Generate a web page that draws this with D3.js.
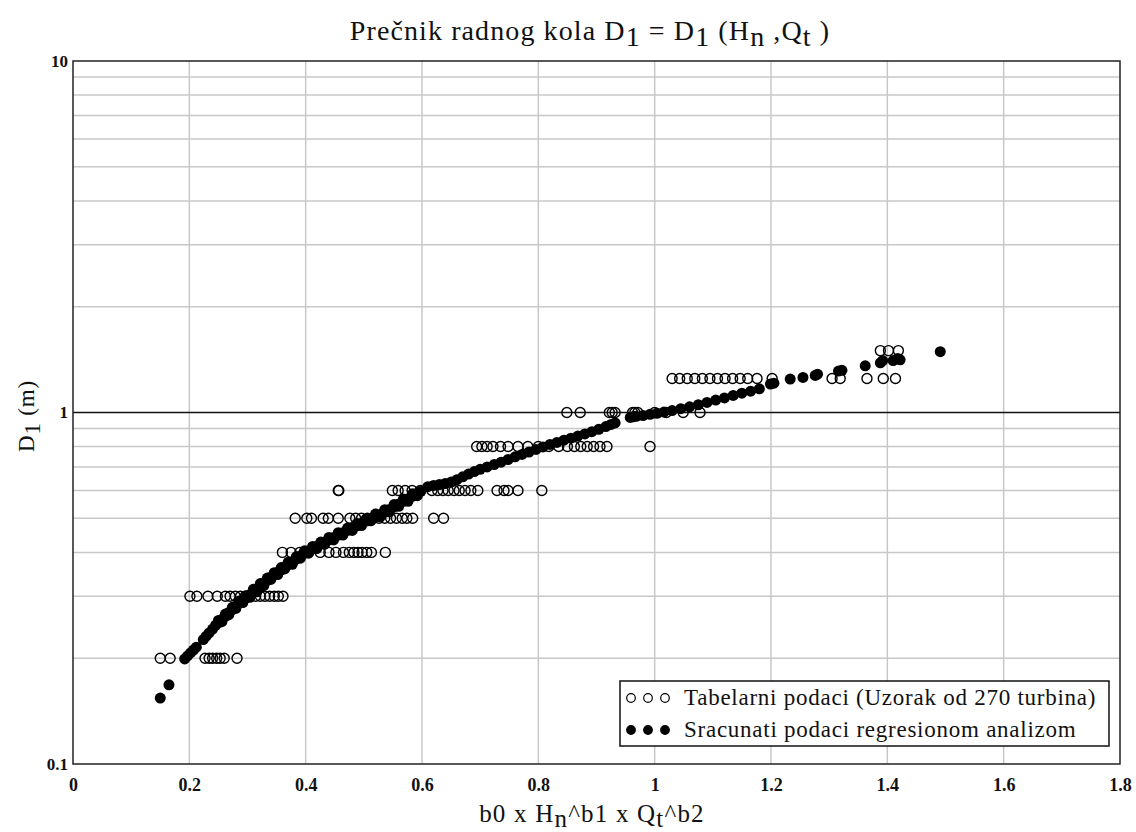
<!DOCTYPE html>
<html>
<head>
<meta charset="utf-8">
<script src="https://cdn.jsdelivr.net/npm/d3@7"></script>
<style>
  body { margin: 0; background: #fff; }
  svg { display: block; font-family: "Liberation Serif", "Times New Roman", serif; }
</style>
</head>
<body>
<div id="chart"></div>
<script>
// tabular data: D1 levels and the x values read for each level
let tabLevels = [0.2, 0.3, 0.4, 0.5, 0.6, 0.8, 1.0, 1.25, 1.5]
let tabX = [
    [0.150, 0.167, 0.227, 0.234, 0.240, 0.247, 0.253, 0.260, 0.282],
    [0.201, 0.213, 0.232, 0.248, 0.262, 0.270, 0.279, 0.288, 0.296, 0.305, 0.314, 0.322, 0.330, 0.338, 0.346, 0.353, 0.361],
    [0.360, 0.375, 0.390, 0.405, 0.425, 0.440, 0.452, 0.465, 0.475, 0.483, 0.490, 0.497, 0.505, 0.513, 0.537],
    [0.382, 0.402, 0.410, 0.430, 0.439, 0.456, 0.476, 0.486, 0.496, 0.506, 0.516, 0.526, 0.536, 0.546, 0.556, 0.566, 0.574, 0.584, 0.620, 0.637],
    [0.456, 0.457, 0.549, 0.559, 0.571, 0.583, 0.597, 0.617, 0.627, 0.636, 0.645, 0.655, 0.664, 0.674, 0.684, 0.696, 0.729, 0.741, 0.748, 0.765, 0.806],
    [0.694, 0.703, 0.712, 0.722, 0.735, 0.748, 0.765, 0.782, 0.800, 0.818, 0.835, 0.850, 0.862, 0.873, 0.884, 0.895, 0.906, 0.918, 0.992],
    [0.849, 0.872, 0.922, 0.927, 0.932, 0.962, 0.966, 0.971, 1.000, 1.020, 1.049, 1.078],
    [1.030, 1.043, 1.056, 1.069, 1.082, 1.095, 1.108, 1.121, 1.134, 1.147, 1.160, 1.176, 1.202, 1.305, 1.319, 1.365, 1.393, 1.414],
    [1.388, 1.402, 1.419]
]

// regression points (x, D1)
let calcX = [0.150, 0.165, 0.192, 0.197, 0.202, 0.207, 0.212, 0.224, 0.229, 0.234, 0.240, 0.245, 0.250, 0.256, 0.262,
    0.268, 0.274, 0.280, 0.286, 0.292, 0.298, 0.304, 0.310, 0.316, 0.322, 0.328, 0.334, 0.340, 0.346, 0.352,
    0.358, 0.364, 0.370, 0.377, 0.384, 0.391, 0.398, 0.405, 0.412, 0.419, 0.426, 0.433, 0.440, 0.448, 0.456,
    0.464, 0.472, 0.480, 0.488, 0.496, 0.504, 0.512, 0.520, 0.528, 0.536, 0.544, 0.552, 0.560, 0.568, 0.576,
    0.584, 0.592, 0.598, 0.610, 0.620, 0.630, 0.640, 0.650, 0.660, 0.670, 0.680, 0.690, 0.700, 0.712, 0.724,
    0.736, 0.748, 0.760, 0.772, 0.784, 0.796, 0.808, 0.820, 0.832, 0.844, 0.856, 0.868, 0.880, 0.892, 0.904,
    0.916, 0.925, 0.932, 0.958, 0.963, 0.968, 0.980, 0.992, 1.004, 1.016, 1.030, 1.045, 1.060, 1.075, 1.090,
    1.105, 1.120, 1.135, 1.150, 1.165, 1.180, 1.199, 1.205, 1.233, 1.255, 1.276, 1.280, 1.316, 1.322, 1.362,
    1.388, 1.392, 1.410, 1.418, 1.422, 1.491,
    0.250, 0.262, 0.274, 0.286, 0.298, 0.310, 0.322, 0.334, 0.346, 0.358, 0.370, 0.384, 0.398, 0.412, 0.426,
    0.440, 0.456, 0.472, 0.488, 0.504, 0.520, 0.536, 0.552, 0.568, 0.584,
    0.256, 0.268, 0.280, 0.292, 0.304, 0.316, 0.328, 0.340, 0.352, 0.364, 0.377, 0.391, 0.405, 0.419, 0.433,
    0.448, 0.464, 0.480, 0.496, 0.512, 0.528, 0.544, 0.560, 0.576, 0.592]
let calcD = [0.154, 0.168, 0.199, 0.203, 0.207, 0.211, 0.215, 0.226, 0.231, 0.236, 0.242, 0.248, 0.252, 0.258, 0.263,
    0.270, 0.275, 0.281, 0.287, 0.292, 0.297, 0.303, 0.309, 0.314, 0.321, 0.327, 0.333, 0.340, 0.345, 0.351,
    0.357, 0.364, 0.369, 0.376, 0.383, 0.391, 0.398, 0.404, 0.410, 0.416, 0.422, 0.428, 0.434, 0.441, 0.448,
    0.455, 0.462, 0.469, 0.476, 0.484, 0.491, 0.499, 0.506, 0.513, 0.521, 0.530, 0.539, 0.549, 0.559, 0.568,
    0.578, 0.589, 0.597, 0.615, 0.620, 0.624, 0.628, 0.634, 0.644, 0.656, 0.668, 0.679, 0.689, 0.700, 0.711,
    0.722, 0.735, 0.748, 0.760, 0.772, 0.785, 0.798, 0.811, 0.822, 0.834, 0.845, 0.857, 0.869, 0.882, 0.896,
    0.912, 0.925, 0.934, 0.968, 0.972, 0.975, 0.980, 0.988, 0.995, 1.003, 1.013, 1.025, 1.038, 1.052, 1.068,
    1.085, 1.100, 1.118, 1.135, 1.150, 1.168, 1.205, 1.212, 1.245, 1.258, 1.275, 1.285, 1.312, 1.318, 1.358,
    1.385, 1.405, 1.405, 1.425, 1.412, 1.490,
    0.256, 0.267, 0.279, 0.291, 0.301, 0.314, 0.326, 0.338, 0.350, 0.362, 0.375, 0.389, 0.404, 0.416, 0.428,
    0.441, 0.455, 0.469, 0.483, 0.498, 0.514, 0.529, 0.547, 0.567, 0.587,
    0.254, 0.266, 0.277, 0.288, 0.298, 0.309, 0.322, 0.335, 0.346, 0.359, 0.370, 0.385, 0.398, 0.410, 0.422,
    0.434, 0.448, 0.462, 0.477, 0.492, 0.505, 0.522, 0.541, 0.559, 0.580]

let xTicks = [0, 0.2, 0.4, 0.6, 0.8, 1, 1.2, 1.4, 1.6, 1.8]
let yTicks = [0.1, 1, 10]
let legendLabels = ["Tabelarni podaci (Uzorak od 270 turbina)", "Sracunati podaci regresionom analizom"]

const width = 1136, height = 832
const plot = { left: 73, right: 1120, top: 61, bottom: 764 }

const svg = d3.select('#chart')
    .append('svg')
    .attr('width', width)
    .attr('height', height)

const xScale = d3.scaleLinear().domain([0, 1.8]).range([plot.left, plot.right])
const yScale = d3.scaleLog().domain([0.1, 10]).range([plot.bottom, plot.top])

// minor log grid
let minor = []
;[0.1, 1].forEach(dec => {
    for (let k = 2; k <= 9; k++) minor.push(dec * k)
})

const grid = svg.append('g').attr('class', 'grid')
grid.selectAll('.hgrid')
    .data(minor)
    .join('line')
    .attr('x1', plot.left).attr('x2', plot.right)
    .attr('y1', d => yScale(d)).attr('y2', d => yScale(d))
    .attr('stroke', '#c8c8c8')
    .attr('stroke-width', 1.5)

grid.selectAll('.vgrid')
    .data(xTicks.slice(1, -1))
    .join('line')
    .attr('x1', d => xScale(d)).attr('x2', d => xScale(d))
    .attr('y1', plot.top).attr('y2', plot.bottom)
    .attr('stroke', '#c8c8c8')
    .attr('stroke-width', 1.5)

// major line at 1
svg.append('line')
    .attr('x1', plot.left).attr('x2', plot.right)
    .attr('y1', yScale(1)).attr('y2', yScale(1))
    .attr('stroke', '#111')
    .attr('stroke-width', 1.3)

// frame
svg.append('rect')
    .attr('x', plot.left).attr('y', plot.top)
    .attr('width', plot.right - plot.left)
    .attr('height', plot.bottom - plot.top)
    .attr('fill', 'none')
    .attr('stroke', '#222')
    .attr('stroke-width', 1.5)

// axes (labels only)
const xAxis = d3.axisBottom(xScale).tickValues(xTicks).tickSize(0).tickPadding(14)
    .tickFormat(d3.format('~g'))
svg.append('g')
    .attr('transform', `translate(0, ${plot.bottom})`)
    .call(xAxis)
    .call(g => g.select('.domain').remove())
    .selectAll('text')
    .attr('font-family', '"Liberation Serif", serif')
    .attr('font-size', 18)
    .attr('font-weight', 'bold')
    .attr('fill', '#111')

const yAxis = d3.axisLeft(yScale).tickValues(yTicks).tickSize(0).tickPadding(5)
    .tickFormat(d3.format('~g'))
svg.append('g')
    .attr('transform', `translate(${plot.left}, 0)`)
    .call(yAxis)
    .call(g => g.select('.domain').remove())
    .selectAll('text')
    .attr('font-family', '"Liberation Serif", serif')
    .attr('font-size', 17)
    .attr('font-weight', 'bold')
    .attr('fill', '#111')

// hollow points
let tabData = []
tabLevels.forEach((lvl, i) => {
    tabX[i].forEach(x => tabData.push({ x: x, d: lvl }))
})

svg.append('g')
    .selectAll('circle')
    .data(tabData)
    .join('circle')
    .attr('cx', d => xScale(d.x))
    .attr('cy', d => yScale(d.d))
    .attr('r', 5)
    .attr('fill', 'none')
    .attr('stroke', '#000')
    .attr('stroke-width', 1.4)

// filled regression points
let calcData = calcX.map((x, i) => ({ x: x, d: calcD[i] }))
svg.append('g')
    .selectAll('circle')
    .data(calcData)
    .join('circle')
    .attr('cx', d => xScale(d.x))
    .attr('cy', d => yScale(d.d))
    .attr('r', 5.5)
    .attr('fill', '#000')

// title
const title = svg.append('text')
    .attr('x', 590)
    .attr('y', 40)
    .attr('text-anchor', 'middle')
    .attr('font-size', 28)
    .attr('letter-spacing', 1.1)
    .attr('fill', '#111')
title.append('tspan').text('Prečnik radnog kola D')
title.append('tspan').text('1').attr('dy', 6)
title.append('tspan').text(' = D').attr('dy', -6)
title.append('tspan').text('1').attr('dy', 6)
title.append('tspan').text(' (H').attr('dy', -6)
title.append('tspan').text('n').attr('dy', 6)
title.append('tspan').text(' ,Q').attr('dy', -6)
title.append('tspan').text('t').attr('dy', 6)
title.append('tspan').text(' )').attr('dy', -6)

// y label
const ylab = svg.append('text')
    .attr('transform', 'translate(34, 416) rotate(-90)')
    .attr('text-anchor', 'middle')
    .attr('font-size', 23)
    .attr('letter-spacing', 0.8)
    .attr('fill', '#111')
ylab.append('tspan').text('D')
ylab.append('tspan').text('1').attr('dy', 6)
ylab.append('tspan').text(' (m)').attr('dy', -6)

// x label
const xlab = svg.append('text')
    .attr('x', 592)
    .attr('y', 822)
    .attr('text-anchor', 'middle')
    .attr('font-size', 25)
    .attr('letter-spacing', 1.2)
    .attr('fill', '#111')
xlab.append('tspan').text('b0 x H')
xlab.append('tspan').text('n').attr('dy', 5)
xlab.append('tspan').text('^b1 x Q').attr('dy', -5)
xlab.append('tspan').text('t').attr('dy', 5)
xlab.append('tspan').text('^b2').attr('dy', -5)

// legend
const legend = svg.append('g')
legend.append('rect')
    .attr('x', 620).attr('y', 681)
    .attr('width', 489).attr('height', 65)
    .attr('fill', '#fff')
    .attr('stroke', '#111')
    .attr('stroke-width', 1.5)

legendLabels.forEach((lab, i) => {
    let cy = 698 + i * 32
    ;[631, 648, 665].forEach(cx => {
        legend.append('circle')
            .attr('cx', cx).attr('cy', cy)
            .attr('r', 4.3)
            .attr('fill', i === 0 ? 'none' : '#000')
            .attr('stroke', '#000')
            .attr('stroke-width', 1.2)
    })
    legend.append('text')
        .attr('x', 684)
        .attr('y', cy + 7)
        .attr('font-size', 23)
        .attr('letter-spacing', 0.75)
        .attr('fill', '#111')
        .text(lab)
})
</script>
</body>
</html>
